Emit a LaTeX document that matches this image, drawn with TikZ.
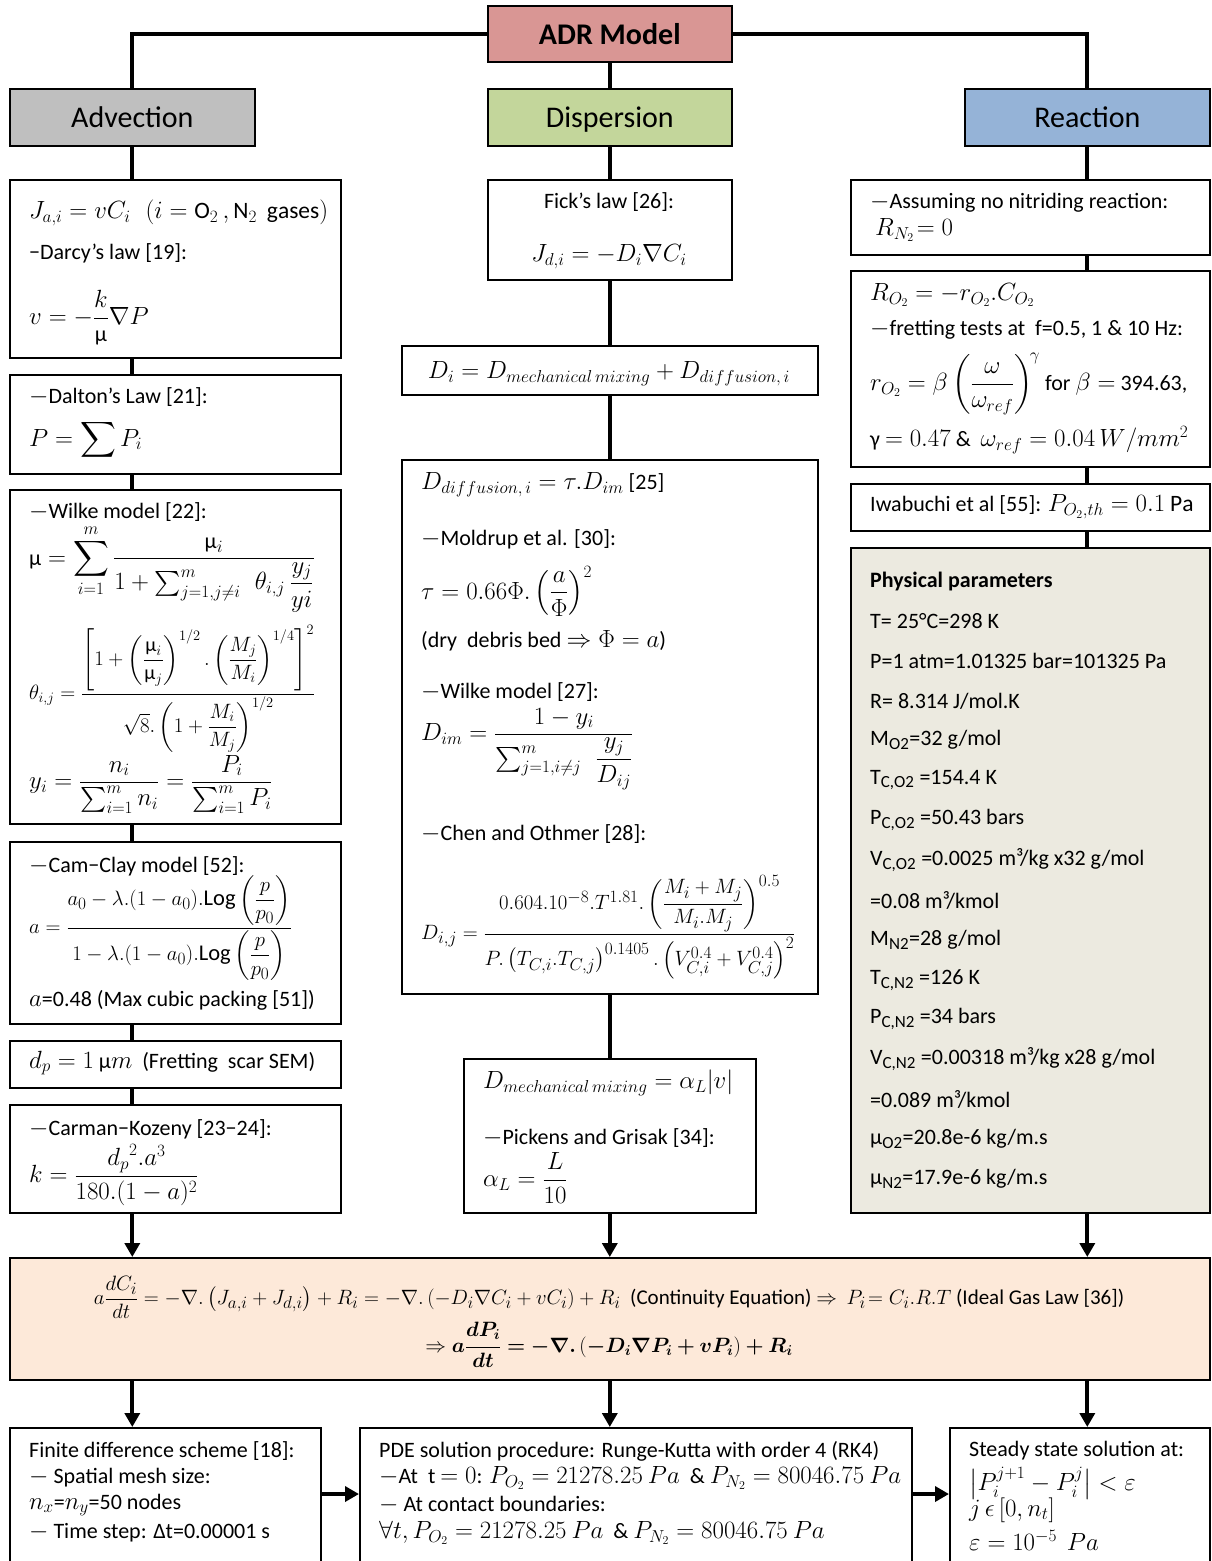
\documentclass[tikz,border=0pt]{standalone}
\usepackage{amsmath}
\usepackage{bm}
\usepackage{fontspec}
\setmainfont{Carlito}
\usetikzlibrary{arrows.meta}
\definecolor{adrpink}{RGB}{217,150,148}
\definecolor{advgray}{RGB}{191,191,191}
\definecolor{disgreen}{RGB}{195,214,155}
\definecolor{reablue}{RGB}{149,179,215}
\definecolor{physbg}{RGB}{236,234,224}
\definecolor{bigpeach}{RGB}{253,233,217}
\DeclareMathSizes{22}{23.5}{17}{12.5}
\DeclareMathSizes{21}{22.5}{16}{12}
\DeclareMathSizes{20}{21.5}{15.5}{11.5}
\DeclareMathSizes{19.5}{20}{14.5}{11}
\newcommand{\mybody}{\fontsize{22}{26}\selectfont}
\newcommand{\mysmall}{\fontsize{21}{25}\selectfont}
\newcommand{\mytheta}{\fontsize{20}{24}\selectfont}
\newcommand{\mybold}{\fontsize{19.5}{24}\selectfont}
\newcommand{\mytitle}{\fontsize{30}{36}\selectfont}
\newcommand{\mmu}{\text{μ}}
\newcommand{\ld}{$-$}
\tikzset{
  box/.style={draw=black, line width=1.6pt, anchor=north west, inner sep=0pt},
  titlebox/.style={box, font=\mytitle, text height=21pt, text depth=0pt},
  conn/.style={line width=4pt},
  arr/.style={line width=4pt, -{Triangle[length=14pt,width=15pt]}},
  txt/.style={anchor=west, inner sep=0pt, font=\mybody},
  ctxt/.style={anchor=center, inner sep=0pt, font=\mybody},
}
\begin{document}
\begin{tikzpicture}[x=1pt,y=-1pt]
\useasboundingbox (0,0) rectangle (1211,1561);
\clip (0,0) rectangle (1211,1561);
% ---------- header boxes
\node[titlebox, fill=adrpink, minimum width=244pt, minimum height=56pt, font=\mytitle\bfseries] (adr) at (487,5) {ADR Model};
\node[titlebox, fill=advgray, minimum width=245pt, minimum height=57pt] (adv) at (9,88) {Advection};
\node[titlebox, fill=disgreen, minimum width=244pt, minimum height=57pt] (dis) at (487,88) {Dispersion};
\node[titlebox, fill=reablue, minimum width=245pt, minimum height=57pt] (rea) at (964,88) {Reaction};
% ---------- left column boxes
\node[box, minimum width=331pt, minimum height=178pt] (a1) at (9,179) {};
\node[box, minimum width=331pt, minimum height=99pt] (a2) at (9,374) {};
\node[box, minimum width=331pt, minimum height=334pt] (a3) at (9,489) {};
\node[box, minimum width=331pt, minimum height=182pt] (a4) at (9,841) {};
\node[box, minimum width=331pt, minimum height=47pt] (a5) at (9,1040) {};
\node[box, minimum width=331pt, minimum height=108pt] (a6) at (9,1104) {};
% ---------- middle column boxes
\node[box, minimum width=244pt, minimum height=100pt] (m1) at (487,179) {};
\node[box, minimum width=416pt, minimum height=49pt] (m2) at (401,345) {};
\node[box, minimum width=416pt, minimum height=534pt] (m3) at (401,459) {};
\node[box, minimum width=292pt, minimum height=154pt] (m4) at (463,1058) {};
% ---------- right column boxes
\node[box, minimum width=359pt, minimum height=75pt] (r1) at (850,179) {};
\node[box, minimum width=359pt, minimum height=196pt] (r2) at (850,270) {};
\node[box, minimum width=359pt, minimum height=47pt] (r3) at (850,483) {};
\node[box, fill=physbg, minimum width=359pt, minimum height=665pt] (r4) at (850,547) {};
% ---------- big box
\node[box, fill=bigpeach, minimum width=1200pt, minimum height=122pt] (big) at (9,1257) {};
% ---------- bottom boxes
\node[box, minimum width=311pt, minimum height=150pt] (b1) at (9,1427) {};
\node[box, minimum width=552pt, minimum height=150pt] (b2) at (359,1427) {};
\node[box, minimum width=260pt, minimum height=150pt] (b3) at (949,1427) {};
\coordinate (hy) at (0,1494);
% ---------- connectors
\draw[conn] (adr.west) -| (adv.north);
\draw[conn] (adr.east) -| (rea.north);
\draw[conn] (adr.south) -- (dis.north);
\draw[conn] (adv.south) -- (adv.south |- a1.north);
\draw[conn] (adv.south |- a1.south) -- (adv.south |- a2.north);
\draw[conn] (adv.south |- a2.south) -- (adv.south |- a3.north);
\draw[conn] (adv.south |- a3.south) -- (adv.south |- a4.north);
\draw[conn] (adv.south |- a4.south) -- (adv.south |- a5.north);
\draw[conn] (adv.south |- a5.south) -- (adv.south |- a6.north);
\draw[arr] (adv.south |- a6.south) -- (adv.south |- big.north);
\draw[conn] (dis.south) -- (m1.north);
\draw[conn] (m1.south) -- (m2.north);
\draw[conn] (m2.south) -- (m3.north);
\draw[conn] (m3.south) -- (m4.north);
\draw[arr] (m4.south) -- (m4.south |- big.north);
\draw[conn] (rea.south) -- (rea.south |- r1.north);
\draw[conn] (rea.south |- r1.south) -- (rea.south |- r2.north);
\draw[conn] (rea.south |- r2.south) -- (rea.south |- r3.north);
\draw[conn] (rea.south |- r3.south) -- (rea.south |- r4.north);
\draw[arr] (rea.south |- r4.south) -- (rea.south |- big.north);
\draw[arr] (adv.south |- big.south) -- (adv.south |- b1.north);
\draw[arr] (dis.south |- big.south) -- (dis.south |- b2.north);
\draw[arr] (rea.south |- big.south) -- (rea.south |- b3.north);
\draw[arr] (b1.east |- hy) -- (b2.west |- hy);
\draw[arr] (b2.east |- hy) -- (b3.west |- hy);
% ---------- A1
\node[txt] (a1t1) at (29,213) {$J_{a,i} = vC_i\ \ \ (i = \mathrm{O}_2\,, \mathrm{N}_2\ \ \mathrm{gases})$};
\node[txt] (a1t2) at (29,253) {−Darcy’s law [19]:};
\node[txt] (a1t3) at (29,318) {$\displaystyle v = -\frac{k}{\mmu}\nabla P$};
% ---------- A2
\node[txt] (a2t1) at (29,397) {\ld Dalton’s Law [21]:};
\node[txt] (a2t2) at (29,440) {$\displaystyle P = \sum P_i$};
% ---------- A3
\node[txt] (a3t1) at (29,512) {\ld Wilke model [22]:};
\node[txt] (a3t2) at (29,568) {$\displaystyle \mmu = \sum_{i=1}^{m}\frac{\mmu_i}{1+\sum_{j=1,j\neq i}^{m}\ \ \theta_{i,j}\ \dfrac{y_j}{yi}}$};
\node[txt, font=\mytheta] (a3t3) at (29,689) {$\displaystyle \theta_{i,j} = \frac{\left[1+\left(\dfrac{\mmu_i}{\mmu_j}\right)^{1/2}.\left(\dfrac{M_j}{M_i}\right)^{1/4}\right]^2}{\sqrt{8}.\left(1+\dfrac{M_i}{M_j}\right)^{1/2}}$};
\node[txt] (a3t4) at (29,784) {$\displaystyle y_i = \frac{n_i}{\sum_{i=1}^m n_i} = \frac{P_i}{\sum_{i=1}^m P_i}$};
% ---------- A4
\node[txt] (a4t1) at (29,866) {\ld Cam−Clay model [52]:};
\node[txt, font=\mysmall] (a4t2) at (29,928) {$\displaystyle a = \frac{a_0-\lambda.(1-a_0).\mathrm{Log}\left(\dfrac{p}{p_0}\right)}{1-\lambda.(1-a_0).\mathrm{Log}\left(\dfrac{p}{p_0}\right)}$};
\node[txt] (a4t3) at (29,1000) {$a$=0.48 (Max cubic packing [51])};
% ---------- A5, A6
\node[txt] (a5t1) at (29,1063) {$d_p = 1\ \mmu m$\ \ (Fretting\ \ scar SEM)};
\node[txt] (a6t1) at (29,1129) {\ld Carman−Kozeny [23−24]:};
\node[txt] (a6t2) at (29,1175) {$\displaystyle k = \frac{{d_p}^2.a^3}{180.(1-a)^2}$};
% ---------- M1, M2
\node[ctxt] (m1t1) at (609,202) {Fick’s law [26]:};
\node[ctxt] (m1t2) at (609,257) {$J_{d,i} = -D_i\nabla C_i$};
\node[ctxt] (m2t1) at (609,374) {$D_i = D_{mechanical\,mixing} + D_{diffusion,\,i}$};
% ---------- M3
\node[txt] (m3t1) at (421,485) {$D_{diffusion,\,i} = \tau.D_{im}$ [25]};
\node[txt] (m3t2) at (421,539) {\ld Moldrup et al. [30]:};
\node[txt] (m3t3) at (421,591) {$\displaystyle \tau = 0.66\Phi.\left(\frac{a}{\Phi}\right)^2$};
\node[txt] (m3t4) at (421,641) {(dry\ \ debris bed $\Rightarrow \Phi = a$)};
\node[txt] (m3t5) at (421,692) {\ld Wilke model [27]:};
\node[txt] (m3t6) at (421,749) {$\displaystyle D_{im} = \frac{1-y_i}{\sum_{j=1,i\neq j}^m\ \ \dfrac{y_j}{D_{ij}}}$};
\node[txt] (m3t7) at (421,834) {\ld Chen and Othmer [28]:};
\node[txt, font=\mysmall] (m3t8) at (421,927) {$\displaystyle D_{i,j} = \frac{0.604.10^{-8}.T^{1.81}.\left(\dfrac{M_i+M_j}{M_i.M_j}\right)^{0.5}}{P.\left(T_{C,i}.T_{C,j}\right)^{0.1405}.\left(V_{C,i}^{0.4}+V_{C,j}^{0.4}\right)^2}$};
% ---------- M4
\node[txt] (m4t1) at (483,1083) {$D_{mechanical\,mixing} = \alpha_L|v|$};
\node[txt] (m4t2) at (483,1138) {\ld Pickens and Grisak [34]:};
\node[txt] (m4t3) at (483,1178) {$\displaystyle \alpha_L = \frac{L}{10}$};
% ---------- R1, R2, R3
\node[txt] (r1t1) at (870,203) {\ld Assuming no nitriding reaction:};
\node[txt] (r1t2) at (875,230) {$R_{N_2}\!= 0$};
\node[txt] (r2t1) at (870,295) {$R_{O_2} = -r_{O_2}.C_{O_2}$};
\node[txt] (r2t2) at (870,330) {\ld fretting tests at\ \ f=0.5, 1 \& 10 Hz:};
\node[txt] (r2t3) at (870,384) {$\displaystyle r_{O_2} = \beta\left(\frac{\omega}{\omega_{ref}}\right)^{\!\gamma}$\ for $\beta =$ 394.63,};
\node[txt] (r2t4) at (870,440) {γ $= 0.47$ \& \ $\omega_{ref} = 0.04\,W/mm^2$};
\node[txt] (r3t1) at (870,507) {Iwabuchi et al [55]: $P_{O_2,th} = 0.1\ \mathrm{Pa}$};
% ---------- R4
\node[txt] (p1) at (870,582) {\textbf{Physical parameters}};
\node[txt] (p2) at (870,621) {T= 25°C=298 K};
\node[txt] (p3) at (870,661) {P=1 atm=1.01325 bar=101325 Pa};
\node[txt] (p4) at (870,701) {R= 8.314 J/mol.K};
\node[txt] (p5) at (870,740) {M\textsubscript{O2}=32 g/mol};
\node[txt] (p6) at (870,780) {T\textsubscript{C,O2} =154.4 K};
\node[txt] (p7) at (870,820) {P\textsubscript{C,O2} =50.43 bars};
\node[txt] (p8) at (870,860) {V\textsubscript{C,O2} =0.0025 m³/kg x32 g/mol};
\node[txt] (p9) at (870,900) {=0.08 m³/kmol};
\node[txt] (p10) at (870,940) {M\textsubscript{N2}=28 g/mol};
\node[txt] (p11) at (870,980) {T\textsubscript{C,N2} =126 K};
\node[txt] (p12) at (870,1019) {P\textsubscript{C,N2} =34 bars};
\node[txt] (p13) at (870,1059) {V\textsubscript{C,N2} =0.00318 m³/kg x28 g/mol};
\node[txt] (p14) at (870,1099) {=0.089 m³/kmol};
\node[txt] (p15) at (870,1139) {μ\textsubscript{O2}=20.8e-6 kg/m.s};
\node[txt] (p16) at (870,1179) {μ\textsubscript{N2}=17.9e-6 kg/m.s};
% ---------- big box text
\node[ctxt, font=\mysmall] (bigt1) at (609,1297) {$\displaystyle a\frac{dC_i}{dt} = -\nabla.\left(J_{a,i}+J_{d,i}\right)+R_i = -\nabla.\left(-D_i\nabla C_i+vC_i\right)+R_i$\ \ (Continuity Equation) $\Rightarrow$\ \ $P_i\!= C_i.R.T$ (Ideal Gas Law [36])};
\node[ctxt, font=\mybold] (bigt2) at (609,1345) {$\displaystyle \Rightarrow \bm{a\frac{dP_i}{dt} = -\nabla.\left(-D_i\nabla P_i+vP_i\right)+R_i}$};
% ---------- bottom texts
\node[txt] (b1t1) at (29,1451) {Finite difference scheme [18]:};
\node[txt] (b1t2) at (29,1478) {\ld\ Spatial mesh size:};
\node[txt] (b1t3) at (29,1505) {$n_x$=$n_y$=50 nodes};
\node[txt] (b1t4) at (29,1533) {\ld\ Time step: Δt=0.00001 s};
\node[txt] (b2t1) at (379,1451) {PDE solution procedure: Runge-Kutta with order 4 (RK4)};
\node[txt] (b2t2) at (379,1478) {\ld At\ \ t $=0$: $P_{O_2} = 21278.25\ Pa$\ \ \& $P_{N_2} = 80046.75\ Pa$};
\node[txt] (b2t3) at (379,1505) {\ld\ At contact boundaries:};
\node[txt] (b2t4) at (379,1533) {$\forall t, P_{O_2} = 21278.25\ Pa$\ \ \& $P_{N_2} = 80046.75\ Pa$};
\node[txt] (b3t1) at (969,1451) {Steady state solution at:};
\node[txt] (b3t2) at (969,1483) {$\bigl|P_i^{j+1}-P_i^{j}\bigr| < \varepsilon$};
\node[txt] (b3t3) at (969,1510) {$j\,\epsilon\,[0,n_t]$};
\node[txt] (b3t4) at (969,1540) {$\varepsilon = 10^{-5}\ \ Pa$};
\end{tikzpicture}
\end{document}
